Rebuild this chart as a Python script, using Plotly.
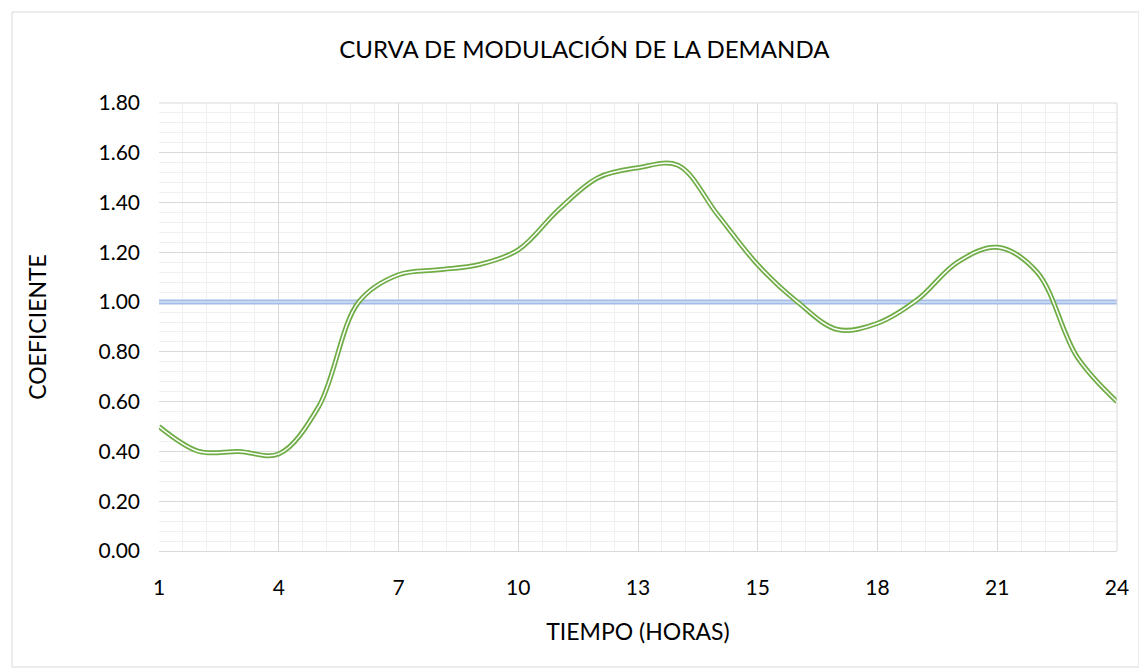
import plotly.graph_objects as go

# Data (25 points, category-style axis with a label every 3 points)
point_index = list(range(25))
coeficiente = [0.50, 0.40, 0.40, 0.39, 0.58, 1.00, 1.11, 1.13, 1.15, 1.21,
               1.37, 1.50, 1.54, 1.55, 1.35, 1.15, 1.00, 0.89, 0.915, 1.01,
               1.16, 1.22, 1.12, 0.78, 0.60]
referencia = [1.00] * 25
tick_positions = [0, 3, 6, 9, 12, 15, 18, 21, 24]
tick_labels = ["1", "4", "7", "10", "13", "15", "18", "21", "24"]

FONT = "Lato"
fig = go.Figure()

# reference line at 1.00 (light blue double line)
fig.add_trace(go.Scatter(x=point_index, y=referencia, mode="lines",
                         line=dict(color="#A3BCE8", width=5), hoverinfo="skip", showlegend=False))
fig.add_trace(go.Scatter(x=point_index, y=referencia, mode="lines",
                         line=dict(color="#D3DFF5", width=1.5), hoverinfo="skip", showlegend=False))

# demand curve (green double line)
fig.add_trace(go.Scatter(x=point_index, y=coeficiente, mode="lines",
                         line=dict(color="#70AD47", width=5, shape="spline", smoothing=1.0),
                         showlegend=False))
fig.add_trace(go.Scatter(x=point_index, y=coeficiente, mode="lines",
                         line=dict(color="#FFFFFF", width=1.5, shape="spline", smoothing=1.0),
                         hoverinfo="skip", showlegend=False))

fig.update_layout(
    width=1139, height=663,
    margin=dict(l=151, r=30, t=95, b=120),
    paper_bgcolor="white", plot_bgcolor="white",
    font=dict(family=FONT, color="#000000"),
    title=dict(text="CURVA DE MODULACIÓN DE LA DEMANDA", xref="container", x=0.506,
               xanchor="center", yref="container", y=0.937, yanchor="middle",
               font=dict(family=FONT, size=24, color="#000000")),
    xaxis=dict(range=[0, 24], tickmode="array", tickvals=tick_positions, ticktext=tick_labels,
               showgrid=True, gridcolor="#D9D9D9", gridwidth=1,
               minor=dict(dtick=0.6, tick0=0, showgrid=True, gridcolor="#F0F0F0", gridwidth=1),
               showline=True, linecolor="#D9D9D9", linewidth=1, mirror=False,
               ticks="", ticklabelstandoff=18, zeroline=False,
               tickfont=dict(family=FONT, size=21, color="#000000"),
               title=dict(text="TIEMPO (HORAS)", standoff=25,
                          font=dict(family=FONT, size=23, color="#000000"))),
    yaxis=dict(range=[0, 1.8], tickmode="linear", tick0=0, dtick=0.2, tickformat=".2f",
               showgrid=True, gridcolor="#D9D9D9", gridwidth=1,
               minor=dict(dtick=0.04, tick0=0, showgrid=True, gridcolor="#F0F0F0", gridwidth=1),
               showline=False, zeroline=False, ticks="", ticklabelstandoff=18,
               tickfont=dict(family=FONT, size=21, color="#000000"),
               title=dict(text="COEFICIENTE", standoff=45,
                          font=dict(family=FONT, size=23, color="#000000"))),
)

# right and top edges of plot area
fig.add_shape(type="line", xref="paper", yref="paper", x0=1, x1=1, y0=0, y1=1,
              line=dict(color="#D9D9D9", width=1))
fig.add_shape(type="line", xref="paper", yref="paper", x0=0, x1=1, y0=1, y1=1,
              line=dict(color="#D9D9D9", width=1))
# chart border (screen coords: plot area 159..1117 x 103..551)
fig.add_shape(type="rect", xref="paper", yref="paper",
              x0=(12 - 159) / 958, x1=(1139 - 159) / 958,
              y0=(551 - 667) / 448, y1=(551 - 12) / 448,
              line=dict(color="#D9D9D9", width=1), fillcolor="rgba(0,0,0,0)", layer="below")

fig.write_html("out.html")
